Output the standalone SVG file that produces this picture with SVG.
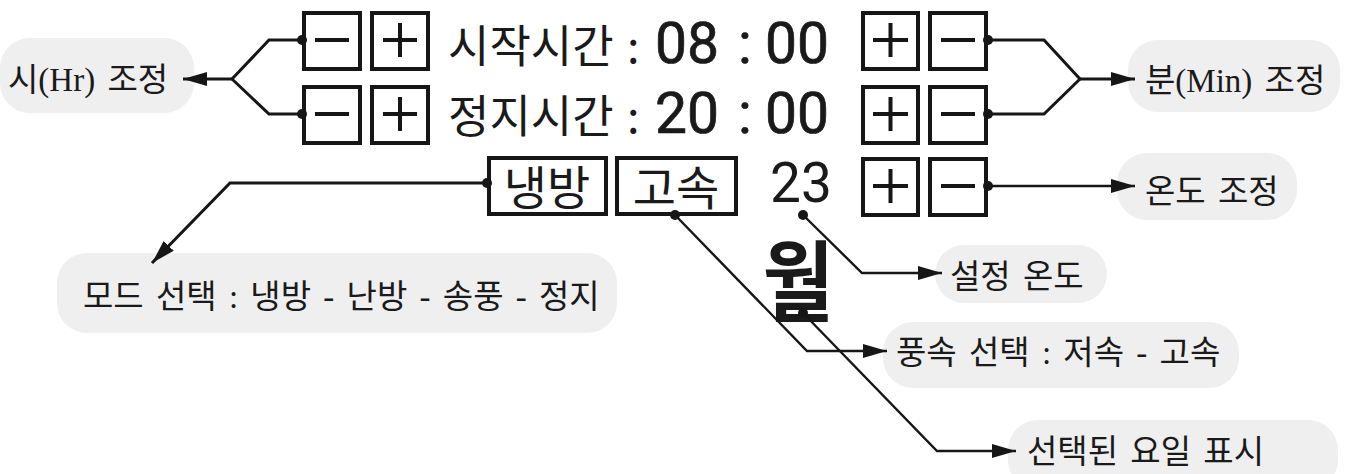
<svg xmlns="http://www.w3.org/2000/svg" width="1346" height="474" viewBox="0 0 1346 474">
<style>
.btn{fill:#fff;stroke:#161616;stroke-width:4}
.sign{stroke:#161616;stroke-width:4;fill:none}
.pill{fill:#efeff0}
.lbl{font-family:"Liberation Serif","Noto Sans CJK KR",serif;font-size:33px;fill:#1a1a1a;word-spacing:4px}
.disp{font-family:"Noto Sans CJK KR","Noto Sans",sans-serif;fill:#1a1a1a}
.kr{font-size:45px}
.num{font-family:Roboto,"Noto Sans",sans-serif;font-size:57px;stroke:#1a1a1a;stroke-width:0.7}
.conn{fill:none;stroke:#161616;stroke-width:3;stroke-linejoin:miter}
.thin{stroke-width:2.4}
.dot{fill:#161616}
</style>
<defs>
<marker id="ah" markerUnits="userSpaceOnUse" markerWidth="26" markerHeight="16" viewBox="0 -8 26 16" refX="24" refY="0" orient="auto">
<path d="M0,-7 L24,0 L0,7 z" fill="#161616"/>
</marker>
</defs>

<g id="label-hr">
<rect class="pill" x="0" y="38" width="194" height="75" rx="30"/>
<text class="lbl" x="8" y="91">시(Hr) 조정</text>
</g>
<g id="label-min">
<rect class="pill" x="1128" y="40" width="212" height="72" rx="30"/>
<text class="lbl" x="1145" y="92">분(Min) 조정</text>
</g>
<g id="label-temp-adj">
<rect class="pill" x="1117" y="153" width="180" height="67" rx="30"/>
<text class="lbl" x="1145" y="203">온도 조정</text>
</g>
<g id="label-mode">
<rect class="pill" x="57" y="253" width="560" height="80" rx="30"/>
<text class="lbl" x="83" y="308">모드 선택 : 냉방 - 난방 - 송풍 - 정지</text>
</g>
<g id="label-set-temp">
<rect class="pill" x="935" y="245" width="172" height="58" rx="29"/>
<text class="lbl" x="950" y="288">설정 온도</text>
</g>
<g id="label-fan">
<rect class="pill" x="883" y="322" width="356" height="66" rx="30"/>
<text class="lbl" x="896" y="364">풍속 선택 : 저속 - 고속</text>
</g>
<g id="label-day">
<rect class="pill" x="1008" y="420" width="330" height="70" rx="30"/>
<text class="lbl" x="1027" y="463">선택된 요일 표시</text>
</g>

<g id="hr-buttons">
<rect class="btn" x="304" y="13" width="56" height="56"/>
<path class="sign" d="M315,40 H349"/>
<rect class="btn" x="372" y="13" width="56" height="56"/>
<path class="sign" d="M383,40 H417 M400,23 V57"/>
<rect class="btn" x="304" y="87" width="56" height="56"/>
<path class="sign" d="M315,114 H349"/>
<rect class="btn" x="372" y="87" width="56" height="56"/>
<path class="sign" d="M383,114 H417 M400,97 V131"/>
</g>

<g id="min-buttons">
<rect class="btn" x="863" y="13" width="55" height="56"/>
<path class="sign" d="M873,40 H908 M890.5,23 V57"/>
<rect class="btn" x="930" y="13" width="56" height="56"/>
<path class="sign" d="M941,40 H975"/>
<rect class="btn" x="863" y="87" width="55" height="56"/>
<path class="sign" d="M873,114 H908 M890.5,97 V131"/>
<rect class="btn" x="930" y="87" width="56" height="56"/>
<path class="sign" d="M941,114 H975"/>
</g>

<g id="temp-buttons">
<rect class="btn" x="863" y="159" width="55" height="56"/>
<path class="sign" d="M873,186 H908 M890.5,169 V203"/>
<rect class="btn" x="930" y="159" width="56" height="56"/>
<path class="sign" d="M941,186 H975"/>
</g>

<g id="start-time">
<text class="disp" y="63"><tspan class="kr" x="448">시작시간</tspan><tspan class="kr" x="627">:</tspan><tspan class="num" x="655">08</tspan><tspan class="num" x="738">:</tspan><tspan class="num" x="765">00</tspan></text>
</g>
<g id="stop-time">
<text class="disp" y="133"><tspan class="kr" x="448">정지시간</tspan><tspan class="kr" x="627">:</tspan><tspan class="num" x="655">20</tspan><tspan class="num" x="738">:</tspan><tspan class="num" x="765">00</tspan></text>
</g>

<g id="mode-box">
<rect class="btn" x="489" y="158" width="117" height="56"/>
<text class="disp" x="547" y="205" font-size="47" text-anchor="middle">냉방</text>
</g>
<g id="fan-box">
<rect class="btn" x="617" y="158" width="119" height="56"/>
<text class="disp" x="676" y="205" font-size="47" text-anchor="middle">고속</text>
</g>
<g id="temp-value">
<text x="801" y="202" font-family="Roboto,'Noto Sans',sans-serif" font-size="55" fill="#1a1a1a" text-anchor="middle">23</text>
</g>
<g id="day">
<text class="disp" transform="translate(798,314) scale(0.88,1)" font-size="88" font-weight="700" text-anchor="middle">월</text>
</g>

<g id="connectors">
<path class="conn" d="M302,40 H269 L232,79 M302,114 H269 L232,79"/>
<path class="conn" d="M232,79 H183" marker-end="url(#ah)"/>
<path class="conn" d="M988,40 H1044 L1080,79 M988,114 H1044 L1080,79"/>
<path class="conn" d="M1080,79 H1135" marker-end="url(#ah)"/>
<path class="conn thin" d="M988,186 H1135" marker-end="url(#ah)"/>
<path class="conn" d="M487,183 H230 L152,263" marker-end="url(#ah)"/>
<path class="conn thin" d="M675,215 L807,351 H887" marker-end="url(#ah)"/>
<path class="conn thin" d="M803,215 L862,273 H942" marker-end="url(#ah)"/>
<path class="conn thin" d="M803,313 L937,451 H1016" marker-end="url(#ah)"/>
<circle class="dot" cx="302" cy="40" r="5"/>
<circle class="dot" cx="302" cy="114" r="5"/>
<circle class="dot" cx="988" cy="40" r="5"/>
<circle class="dot" cx="988" cy="114" r="5"/>
<circle class="dot" cx="988" cy="186" r="5"/>
<circle class="dot" cx="487" cy="183" r="5"/>
<circle class="dot" cx="675" cy="215" r="5"/>
<circle class="dot" cx="803" cy="215" r="5"/>
<circle class="dot" cx="803" cy="313" r="5"/>
</g>
</svg>
